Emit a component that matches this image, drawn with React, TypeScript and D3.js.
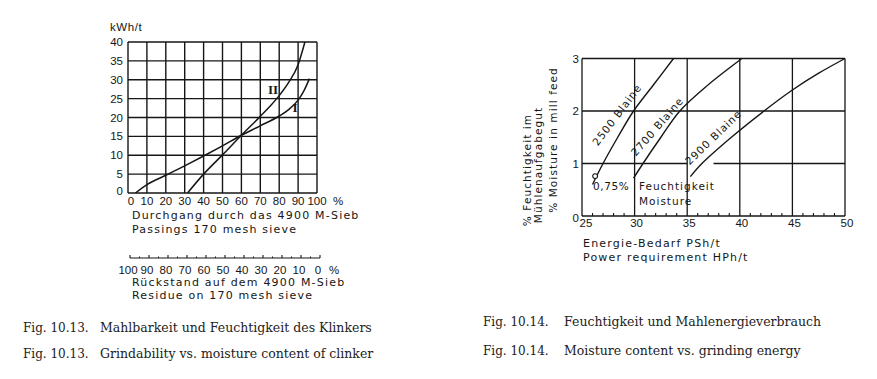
import React from "react";
import * as d3 from "d3";

// ---------- Fig. 10.13 data ----------
const passTicks = [0, 10, 20, 30, 40, 50, 60, 70, 80, 90, 100];
const energyTicks = [0, 5, 10, 15, 20, 25, 30, 35, 40];
const residueTicks = [100, 90, 80, 70, 60, 50, 40, 30, 20, 10, 0];
const residueMinor = [95, 85, 75, 65, 55, 45, 35, 25, 15, 5];
const curveI: [number, number][] = [
  [4, 0], [10, 2.2], [20, 4.7], [30, 7.2], [40, 9.8], [50, 12.5], [60, 15.3],
  [70, 17.8], [80, 20.4], [85, 22.1], [90, 24.6], [93, 27], [96, 30.3],
];
const curveII: [number, number][] = [
  [31.5, 0], [40, 5], [50, 10.1], [60, 15.3], [70, 20.3], [75, 22.9],
  [80, 25.8], [85, 29.3], [90, 34], [93.6, 40],
];

// ---------- Fig. 10.14 data ----------
const powerTicks = [25, 30, 35, 40, 45, 50];
const powerMinor = [26, 27, 28, 29, 31, 32, 33, 34, 36, 37, 38, 39, 41, 42, 43, 44, 46, 47, 48, 49];
const moistTicks = [0, 1, 2, 3];
const blaine2500: [number, number][] = [
  [26.0, 0.6], [27.0, 1.0], [28.4, 1.5], [29.9, 2.0], [31.8, 2.5], [33.7, 3.0],
];
const blaine2700: [number, number][] = [
  [29.9, 0.72], [30.8, 1.0], [32.5, 1.5], [34.3, 2.0], [37.0, 2.5], [40.2, 3.0],
];
const blaine2900: [number, number][] = [
  [35.3, 0.75], [36.4, 1.0], [39.2, 1.5], [42.3, 2.0], [45, 2.4], [47.5, 2.72], [50, 3.0],
];
const moisturePoint: [number, number] = [26.25, 0.76];

const captionsLeft = [
  ["Fig. 10.13.", "Mahlbarkeit und Feuchtigkeit des Klinkers"],
  ["Fig. 10.13.", "Grindability vs. moisture content of clinker"],
];
const captionsRight = [
  ["Fig. 10.14.", "Feuchtigkeit und Mahlenergieverbrauch"],
  ["Fig. 10.14.", "Moisture content vs. grinding energy"],
];

const INK = "#161616";
const SANS = "'DejaVu Sans', sans-serif";
const NUM = "'Liberation Sans', Arial, sans-serif";
const SERIF = "'DejaVu Serif', serif";

export default function App() {
  // left chart scales
  const xL = d3.scaleLinear().domain([0, 100]).range([128, 317]);
  const yL = d3.scaleLinear().domain([0, 40]).range([193, 42]);
  const xRes = d3.scaleLinear().domain([100, 0]).range([130, 320]);
  const lineL = d3
    .line<[number, number]>()
    .x((d) => xL(d[0]))
    .y((d) => yL(d[1]))
    .curve(d3.curveMonotoneX);

  // right chart scales
  const xR = d3.scaleLinear().domain([25, 50]).range([582, 845]);
  const yR = d3.scaleLinear().domain([0, 3]).range([216, 58.5]);
  const lineR = d3
    .line<[number, number]>()
    .x((d) => xR(d[0]))
    .y((d) => yR(d[1]))
    .curve(d3.curveCatmullRom);

  const resAxisY = 258;

  return (
    <svg
      width={877}
      height={379}
      viewBox="0 0 877 379"
      style={{ position: "absolute", left: 0, top: 0, background: "#fff" }}
    >
      <rect x={0} y={0} width={877} height={379} fill="#fff" />

      {/* ================= Fig 10.13 ================= */}
      <g stroke={INK} strokeWidth={1.4} fill="none">
        {passTicks.map((t) => (
          <line key={"vx" + t} x1={xL(t)} x2={xL(t)} y1={yL(0)} y2={yL(40)} />
        ))}
        {energyTicks.map((t) => (
          <line key={"hy" + t} x1={xL(0)} x2={xL(100)} y1={yL(t)} y2={yL(t)} />
        ))}
      </g>
      <path d={lineL(curveI) || ""} fill="none" stroke={INK} strokeWidth={1.5} />
      <path d={lineL(curveII) || ""} fill="none" stroke={INK} strokeWidth={1.5} />
      <text x={273} y={94} fontFamily="'Liberation Serif', serif" fontSize={13} fontWeight="bold" fill={INK} textAnchor="middle">II</text>
      <text x={295} y={112} fontFamily="'Liberation Serif', serif" fontSize={13} fontWeight="bold" fill={INK} textAnchor="middle">I</text>

      <g fontFamily={NUM} fontSize={11.5} fill={INK}>
        {energyTicks.map((t) => (
          <text key={"yl" + t} x={123} y={yL(t) + 4 - (t === 0 ? 2 : 0)} textAnchor="end">{t}</text>
        ))}
        {passTicks.map((t) => (
          <text key={"xl" + t} x={xL(t) + (t === 0 ? 3 : 0)} y={205} textAnchor="middle">{t}</text>
        ))}
        <text x={333} y={205}>%</text>
        <text x={110} y={31} letterSpacing={0.6}>kWh/t</text>
      </g>
      <g fontFamily={SANS} fontSize={11} fill={INK} letterSpacing={1.2}>
        <text x={132} y={219}>Durchgang durch das 4900 M-Sieb</text>
        <text x={132} y={233}>Passings 170 mesh sieve</text>
      </g>

      {/* residue axis */}
      <g stroke={INK} strokeWidth={1.1}>
        <line x1={xRes(100)} x2={xRes(0)} y1={resAxisY} y2={resAxisY} />
        {residueTicks.map((t) => (
          <line key={"rt" + t} x1={xRes(t)} x2={xRes(t)} y1={resAxisY} y2={resAxisY - 3} />
        ))}
        {residueMinor.map((t) => (
          <line key={"rm" + t} x1={xRes(t)} x2={xRes(t)} y1={resAxisY} y2={resAxisY - 1.5} />
        ))}
      </g>
      <g fontFamily={NUM} fontSize={11.5} fill={INK}>
        {residueTicks.map((t) => (
          <text key={"rl" + t} x={xRes(t) - 2} y={274} textAnchor="middle">{t}</text>
        ))}
        <text x={329} y={274}>%</text>
      </g>
      <g fontFamily={SANS} fontSize={11} fill={INK} letterSpacing={1.2}>
        <text x={132} y={286}>Rückstand auf dem 4900 M-Sieb</text>
        <text x={132} y={299}>Residue on 170 mesh sieve</text>
      </g>

      {/* ================= Fig 10.14 ================= */}
      <g stroke={INK} strokeWidth={1.3} fill="none">
        {powerTicks.map((t) => (
          <line key={"pv" + t} x1={xR(t)} x2={xR(t)} y1={yR(0)} y2={yR(3)} />
        ))}
        {moistTicks
          .filter((t) => t !== 1)
          .map((t) => (
            <line key={"mh" + t} x1={xR(25)} x2={xR(50)} y1={yR(t)} y2={yR(t)} />
          ))}
        <line x1={xR(25)} x2={xR(35)} y1={yR(1)} y2={yR(1)} />
        <line x1={xR(37.5)} x2={xR(50)} y1={yR(1)} y2={yR(1)} />
        {powerMinor.map((t) => (
          <line key={"pm" + t} x1={xR(t)} x2={xR(t)} y1={yR(0)} y2={yR(0) - 3} strokeWidth={1.1} />
        ))}
      </g>
      <path d={lineR(blaine2500) || ""} fill="none" stroke={INK} strokeWidth={1.4} />
      <path d={lineR(blaine2700) || ""} fill="none" stroke={INK} strokeWidth={1.4} />
      <path d={lineR(blaine2900) || ""} fill="none" stroke={INK} strokeWidth={1.4} />
      <circle cx={xR(moisturePoint[0])} cy={yR(moisturePoint[1])} r={2.4} fill="#fff" stroke={INK} strokeWidth={1.1} />

      <g fontFamily={SANS} fontSize={10.5} fill={INK} letterSpacing={1}>
        <text transform="translate(620,117) rotate(-53)" textAnchor="middle">2500 Blaine</text>
        <text transform="translate(660,129) rotate(-49)" textAnchor="middle">2700 Blaine</text>
        <text transform="translate(716,140) rotate(-44)" textAnchor="middle">2900 Blaine</text>
        <text x={593} y={190} letterSpacing={0.6}>0,75%</text>
        <text x={639} y={190}>Feuchtigkeit</text>
        <text x={639} y={205}>Moisture</text>
      </g>

      <g fontFamily={NUM} fontSize={11.5} fill={INK}>
        {moistTicks.map((t) => (
          <text key={"ml" + t} x={579} y={yR(t) + 4 + (t === 0 ? 2 : 0)} textAnchor="end">{t}</text>
        ))}
        {powerTicks.map((t) => (
          <text key={"pl" + t} x={xR(t) + (t === 25 ? 4 : 2)} y={227} textAnchor="middle">{t}</text>
        ))}
      </g>
      <g fontFamily={SANS} fontSize={11} fill={INK} letterSpacing={1.2}>
        <text x={583} y={247}>Energie-Bedarf PSh/t</text>
        <text x={583} y={261}>Power requirement HPh/t</text>
      </g>
      <g fontFamily={SANS} fontSize={10.5} fill={INK} letterSpacing={1.1}>
        <text transform="translate(531,170) rotate(-90)" textAnchor="middle">% Feuchtigkeit im</text>
        <text transform="translate(542,165) rotate(-90)" textAnchor="middle">Mühlenaufgabegut</text>
        <text transform="translate(557,140) rotate(-90)" textAnchor="middle">% Moisture in mill feed</text>
      </g>

      {/* captions */}
      <g fontFamily={SERIF} fontSize={12.5} fill="#222">
        {captionsLeft.map((c, i) => (
          <g key={"cl" + i}>
            <text x={23} y={332 + i * 26} fontSize={12}>{c[0]}</text>
            <text x={100} y={332 + i * 26}>{c[1]}</text>
          </g>
        ))}
        {captionsRight.map((c, i) => (
          <g key={"cr" + i}>
            <text x={483} y={326 + i * 29} fontSize={12}>{c[0]}</text>
            <text x={564} y={326 + i * 29}>{c[1]}</text>
          </g>
        ))}
      </g>
    </svg>
  );
}
